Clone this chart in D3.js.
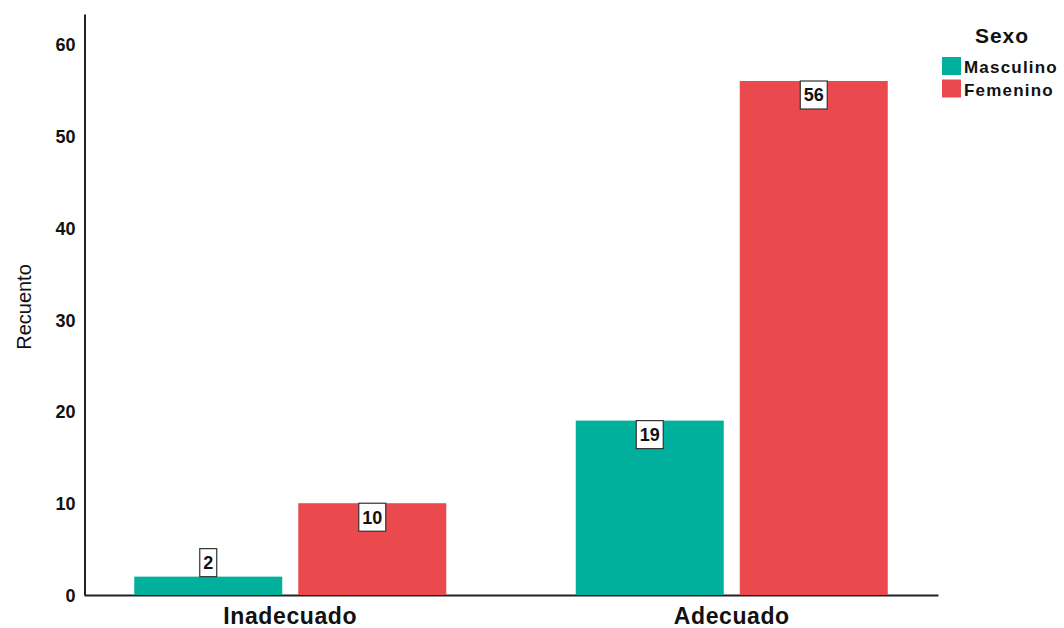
<!DOCTYPE html>
<html>
<head>
<meta charset="utf-8">
<script src="https://cdn.jsdelivr.net/npm/d3@7"></script>
<style>
  html, body { margin: 0; padding: 0; background: #ffffff; }
  svg { display: block; }
  text { font-family: "Liberation Sans", Arial, sans-serif; fill: #111; }
</style>
</head>
<body>
<svg id="chart" width="1064" height="628"></svg>
<script>
// Counts by category (Inadecuado / Adecuado) and sex
const categories = ["Inadecuado", "Adecuado"];
const seriesNames = ["Masculino", "Femenino"];
const masculino = [2, 19];
const femenino = [10, 56];
const yTicks = [0, 10, 20, 30, 40, 50, 60];
const legendTitle = "Sexo";
const yTitle = "Recuento";

const colors = ["#00B09C", "#EA4A4D"];
const seriesValues = [masculino, femenino];

const svg = d3.select("#chart");

const x0 = d3.scaleBand()
  .domain(categories)
  .range([84, 938])
  .paddingInner(0.2933)
  .paddingOuter(0.1138);

const x1 = d3.scaleBand()
  .domain(seriesNames)
  .range([0, x0.bandwidth()])
  .paddingInner(0.0976)
  .paddingOuter(0);

const y = d3.scaleLinear()
  .domain([0, 63.3])
  .range([595, 14]);

// Y axis: plain line with bold numeric labels, no tick marks
const yAxis = svg.append("g")
  .attr("transform", "translate(84.5,0)")
  .call(d3.axisLeft(y).tickValues(yTicks).tickSize(0).tickSizeOuter(0).tickPadding(9));
yAxis.select(".domain").attr("stroke", "#222").attr("stroke-width", 2);
yAxis.selectAll(".tick text")
  .attr("font-size", 18)
  .attr("font-weight", "bold")
  .attr("dy", "0.36em")
  .style("font-family", "'Liberation Sans', Arial, sans-serif")
  .attr("fill", "#111");

// X axis: baseline with category names
const xAxis = svg.append("g")
  .attr("transform", "translate(0,595)")
  .call(d3.axisBottom(x0).tickSize(0).tickSizeOuter(0));
xAxis.select(".domain").attr("stroke", "#222").attr("stroke-width", 2);
xAxis.selectAll(".tick text")
  .attr("y", 29)
  .attr("dy", 0)
  .attr("font-size", 23)
  .attr("font-weight", "bold")
  .attr("letter-spacing", 0.6)
  .style("font-family", "'Liberation Sans', Arial, sans-serif")
  .attr("fill", "#111");

// Y axis title
svg.append("text")
  .attr("transform", "translate(31,307) rotate(-90)")
  .attr("text-anchor", "middle")
  .attr("font-size", 20)
  .text(yTitle);

// Bars
const rows = [];
categories.forEach((c, i) => {
  seriesNames.forEach((s, j) => {
    rows.push({ cat: c, series: s, value: seriesValues[j][i], color: colors[j] });
  });
});

const barG = svg.append("g");
barG.selectAll("rect")
  .data(rows)
  .join("rect")
  .attr("x", d => x0(d.cat) + x1(d.series))
  .attr("y", d => y(d.value))
  .attr("width", x1.bandwidth())
  .attr("height", d => y(0) - y(d.value))
  .attr("fill", d => d.color);

// Value labels in white boxes at the top of each bar
const boxH = 28;
const labelG = svg.append("g");
rows.forEach(d => {
  const cx = x0(d.cat) + x1(d.series) + x1.bandwidth() / 2;
  const barH = y(0) - y(d.value);
  const top = barH < boxH ? y(d.value) - boxH : y(d.value);
  const txt = String(d.value);
  const w = txt.length === 1 ? 17 : 27;
  labelG.append("rect")
    .attr("x", cx - w / 2)
    .attr("y", top)
    .attr("width", w)
    .attr("height", boxH)
    .attr("fill", "#ffffff")
    .attr("stroke", "#333")
    .attr("stroke-width", 1.2);
  labelG.append("text")
    .attr("x", cx)
    .attr("y", top + boxH / 2)
    .attr("dy", "0.36em")
    .attr("text-anchor", "middle")
    .attr("font-size", 18)
    .attr("font-weight", "bold")
    .text(txt);
});

// Legend
const legend = svg.append("g");
legend.append("text")
  .attr("x", 1002)
  .attr("y", 43)
  .attr("text-anchor", "middle")
  .attr("font-size", 21)
  .attr("font-weight", "bold")
  .attr("letter-spacing", 1)
  .text(legendTitle);

seriesNames.forEach((s, j) => {
  const yy = 57 + j * 22.5;
  legend.append("rect")
    .attr("x", 942)
    .attr("y", yy)
    .attr("width", 19)
    .attr("height", 18)
    .attr("fill", colors[j]);
  legend.append("text")
    .attr("x", 964)
    .attr("y", yy + 16)
    .attr("font-size", 17)
    .attr("font-weight", "bold")
    .attr("letter-spacing", 1.2)
    .text(s);
});
</script>
</body>
</html>
